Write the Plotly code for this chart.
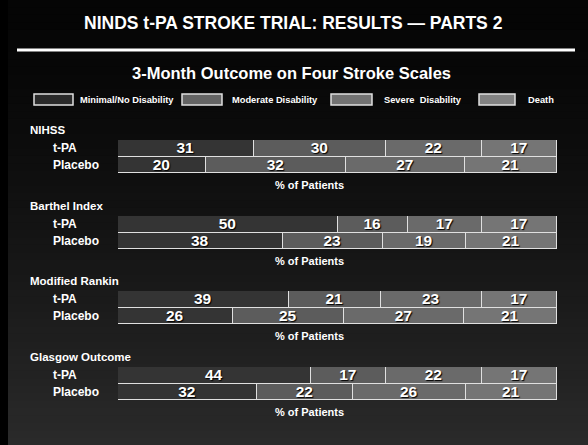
import plotly.graph_objects as go

W, H = 588, 445

# ---- data ----
scales = ["NIHSS", "Barthel Index", "Modified Rankin", "Glasgow Outcome"]
arms = ["t-PA", "Placebo"]
outcomes = ["Minimal/No Disability", "Moderate Disability", "Severe\u00a0 Disability", "Death"]
tpa_values = [
    [31, 30, 22, 17],
    [50, 16, 17, 17],
    [39, 21, 23, 17],
    [44, 17, 22, 17],
]
placebo_values = [
    [20, 32, 27, 21],
    [38, 23, 19, 21],
    [26, 25, 27, 21],
    [32, 22, 26, 21],
]
title_text = "NINDS t-PA STROKE TRIAL: RESULTS \u2014 PARTS 2"
subtitle_text = "3-Month Outcome on Four Stroke Scales"
axis_label = "% of Patients"

# ---- styling ----
FONT = "Liberation Sans, Arial, sans-serif"
seg_colors = ["#343434", "#5c5c5c", "#6a6a6a", "#757575"]
legend_colors = ["#2a2a2a", "#646464", "#727272", "#828282"]


def px(x):
    return x / W


def py(y):
    return 1 - y / H


# bar blocks (top, bottom) in pixels
blocks = [(140, 173), (216, 249), (291, 324), (367, 400)]
x_left, x_right = 118, 557

fig = go.Figure()
layout_axes = {}
annotations = []
shapes = []

for i, scale in enumerate(scales):
    n = "" if i == 0 else str(i + 1)
    for k, oc in enumerate(outcomes):
        vals = [tpa_values[i][k], placebo_values[i][k]]
        fig.add_trace(go.Bar(
            orientation="h",
            y=arms,
            x=vals,
            text=[str(v) for v in vals],
            texttemplate="<b>%{text}</b>",
            textposition="inside",
            insidetextanchor="middle",
            textangle=0,
            constraintext="none",
            textfont=dict(family=FONT, size=15.5, color="white",
                          shadow="1px 1px 1px #000000"),
            marker=dict(color=seg_colors[k], line=dict(color="#e0e0e0", width=1.5)),
            name=oc,
            showlegend=False,
            xaxis="x" + n,
            yaxis="y" + n,
            hovertemplate=scale + " %{y}: %{text}%<extra>" + oc + "</extra>",
        ))
    top, bot = blocks[i]
    layout_axes["xaxis" + n] = dict(
        domain=[px(x_left), px(x_right)], range=[0, 100], anchor="y" + n,
        showticklabels=False, showgrid=False, zeroline=False, showline=False,
        fixedrange=True,
    )
    layout_axes["yaxis" + n] = dict(
        domain=[py(bot), py(top)], anchor="x" + n, type="category",
        categoryorder="array", categoryarray=arms[::-1], range=[-0.5, 1.5],
        showticklabels=False, showgrid=False, zeroline=False, showline=False,
        fixedrange=True,
    )
    # group header
    annotations.append(dict(
        x=px(28), y=py(top - 10), xref="paper", yref="paper", text="<b>" + scale + "</b>",
        showarrow=False, xanchor="left", yanchor="middle",
        font=dict(family=FONT, size=11.5, color="white"),
    ))
    # arm labels
    for arm in arms:
        annotations.append(dict(
            x=px(51), y=arm, xref="paper", yref="y" + n, text="<b>" + arm + "</b>",
            showarrow=False, xanchor="left", yanchor="middle",
            font=dict(family=FONT, size=12, color="white"),
        ))
    # % of patients
    annotations.append(dict(
        x=px(309), y=py(bot + 12), xref="paper", yref="paper", text="<b>" + axis_label + "</b>",
        showarrow=False, xanchor="center", yanchor="middle",
        font=dict(family=FONT, size=11, color="white"),
    ))

# background gradient (overlapping bands to avoid seams)
nb = 60
for b in range(nb):
    t = (b + 0.5) / nb
    g = int(5 + 38 * (t ** 1.4))
    shapes.append(dict(
        type="rect", xref="paper", yref="paper", x0=0, x1=1,
        y0=1 - (b + 1.6) / nb, y1=1 - b / nb,
        fillcolor=f"rgb({g},{g},{g})", line=dict(width=0), layer="below",
    ))
# left black edge
shapes.append(dict(type="rect", xref="paper", yref="paper", x0=0, x1=px(8), y0=0, y1=1,
                   fillcolor="black", line=dict(width=0), layer="below"))
# title rule
shapes.append(dict(type="line", xref="paper", yref="paper", x0=px(17), x1=px(575),
                   y0=py(50), y1=py(50), line=dict(color="white", width=3)))

# legend swatches
leg_boxes = [(34, 73, 78), (182, 222, 230), (331, 372, 382), (479, 515, 526)]
for k, (bx0, bx1, tx) in enumerate(leg_boxes):
    shapes.append(dict(type="rect", xref="paper", yref="paper", x0=px(bx0), x1=px(bx1),
                       y0=py(105), y1=py(94), fillcolor=legend_colors[k],
                       line=dict(color="#e0e0e0", width=1.5)))
    annotations.append(dict(
        x=px(tx), y=py(100), xref="paper", yref="paper", text="<b>" + outcomes[k] + "</b>",
        showarrow=False, xanchor="left", yanchor="middle",
        font=dict(family=FONT, size=9.3, color="white"),
    ))

# titles
annotations.append(dict(
    x=px(293), y=py(23), xref="paper", yref="paper", text="<b>" + title_text + "</b>",
    showarrow=False, xanchor="center", yanchor="middle",
    font=dict(family=FONT, size=17.5, color="white"),
))
annotations.append(dict(
    x=px(291), y=py(73), xref="paper", yref="paper", text="<b>" + subtitle_text + "</b>",
    showarrow=False, xanchor="center", yanchor="middle",
    font=dict(family=FONT, size=16.5, color="white"),
))

fig.update_layout(
    width=W, height=H,
    margin=dict(l=0, r=0, t=0, b=0),
    paper_bgcolor="black", plot_bgcolor="rgba(0,0,0,0)",
    barmode="stack", barnorm="percent", bargap=0,
    showlegend=False,
    annotations=annotations, shapes=shapes,
    font=dict(family=FONT, color="white"),
    **layout_axes,
)

fig.write_html("out.html", config={"displayModeBar": False},
               post_script="document.body.style.margin='0';")
